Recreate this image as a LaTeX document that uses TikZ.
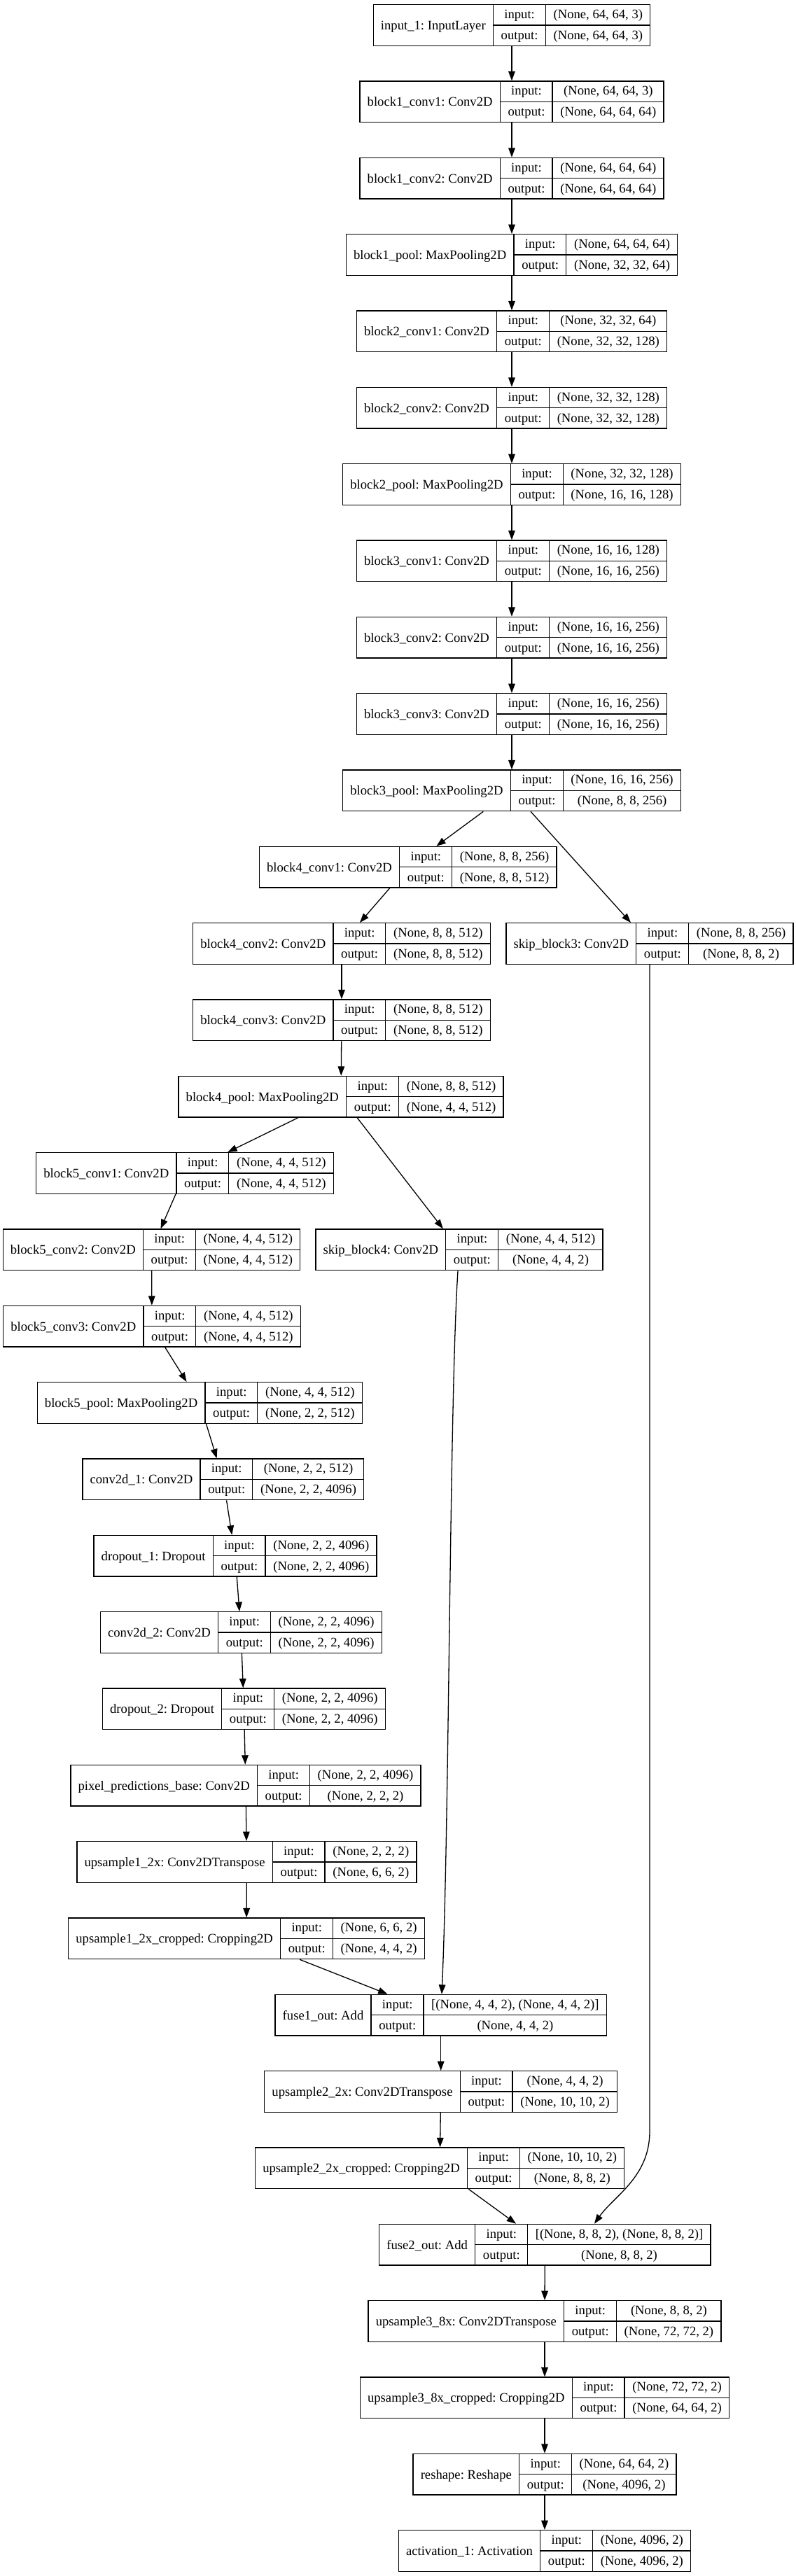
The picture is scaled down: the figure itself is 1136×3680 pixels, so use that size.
\documentclass[tikz,border=0pt]{standalone}
\usepackage{fontspec}
\setmainfont{Liberation Serif}
\usetikzlibrary{arrows.meta}
\frenchspacing
\setlength{\arrayrulewidth}{.65pt}
\newcommand\pd{\hspace{5.333pt}}
\newcommand\rs{\rule[-4.35pt]{0pt}{14.35pt}}
% one keras layer: name | input:/output: | shapes
\newcommand\rec[3]{%
  \begin{tabular}{@{\pd}c@{\pd}|@{}c@{}}
    \raisebox{-1pt}{#1} &
    \begin{tabular}{@{\pd}c@{\pd}|@{\pd}c@{\pd}}
      \rs input: & #2\\ \hline
      \rs output: & #3
    \end{tabular}
  \end{tabular}}
\tikzset{layer/.style={draw, line width=.65pt, inner sep=0pt, font=\fontsize{9.333pt}{11pt}\selectfont}}
\begin{document}
\begin{tikzpicture}[>={Triangle[length=6.7pt,width=4.8pt]}, x=.5pt, y=-.5pt, line width=.65pt]
\path[fill=white](0,0) rectangle (1136,3680);

\node[layer] (in1) at (731,36) {\rec{input\_1: InputLayer}{(None, 64, 64, 3)}{(None, 64, 64, 3)}};
\node[layer] (b1c1) at (731,145.3) {\rec{block1\_conv1: Conv2D}{(None, 64, 64, 3)}{(None, 64, 64, 64)}};
\node[layer] (b1c2) at (731,254.7) {\rec{block1\_conv2: Conv2D}{(None, 64, 64, 64)}{(None, 64, 64, 64)}};
\node[layer] (b1pool) at (731,364) {\rec{block1\_pool: MaxPooling2D}{(None, 64, 64, 64)}{(None, 32, 32, 64)}};
\node[layer] (b2c1) at (731,473.3) {\rec{block2\_conv1: Conv2D}{(None, 32, 32, 64)}{(None, 32, 32, 128)}};
\node[layer] (b2c2) at (731,582.7) {\rec{block2\_conv2: Conv2D}{(None, 32, 32, 128)}{(None, 32, 32, 128)}};
\node[layer] (b2pool) at (731,692) {\rec{block2\_pool: MaxPooling2D}{(None, 32, 32, 128)}{(None, 16, 16, 128)}};
\node[layer] (b3c1) at (731,801.3) {\rec{block3\_conv1: Conv2D}{(None, 16, 16, 128)}{(None, 16, 16, 256)}};
\node[layer] (b3c2) at (731,910.7) {\rec{block3\_conv2: Conv2D}{(None, 16, 16, 256)}{(None, 16, 16, 256)}};
\node[layer] (b3c3) at (731,1020) {\rec{block3\_conv3: Conv2D}{(None, 16, 16, 256)}{(None, 16, 16, 256)}};
\node[layer] (b3pool) at (731,1129.3) {\rec{block3\_pool: MaxPooling2D}{(None, 16, 16, 256)}{(None, 8, 8, 256)}};
\node[layer] (b4c1) at (582.7,1238.7) {\rec{block4\_conv1: Conv2D}{(None, 8, 8, 256)}{(None, 8, 8, 512)}};
\node[layer] (b4c2) at (488,1348) {\rec{block4\_conv2: Conv2D}{(None, 8, 8, 512)}{(None, 8, 8, 512)}};
\node[layer] (skip3) at (928,1348) {\rec{skip\_block3: Conv2D}{(None, 8, 8, 256)}{(None, 8, 8, 2)}};
\node[layer] (b4c3) at (488,1457.3) {\rec{block4\_conv3: Conv2D}{(None, 8, 8, 512)}{(None, 8, 8, 512)}};
\node[layer] (b4pool) at (487,1566.7) {\rec{block4\_pool: MaxPooling2D}{(None, 8, 8, 512)}{(None, 4, 4, 512)}};
\node[layer] (b5c1) at (264,1676) {\rec{block5\_conv1: Conv2D}{(None, 4, 4, 512)}{(None, 4, 4, 512)}};
\node[layer] (b5c2) at (216.5,1785.3) {\rec{block5\_conv2: Conv2D}{(None, 4, 4, 512)}{(None, 4, 4, 512)}};
\node[layer] (skip4) at (656,1785.3) {\rec{skip\_block4: Conv2D}{(None, 4, 4, 512)}{(None, 4, 4, 2)}};
\node[layer] (b5c3) at (217,1894.7) {\rec{block5\_conv3: Conv2D}{(None, 4, 4, 512)}{(None, 4, 4, 512)}};
\node[layer] (b5pool) at (285.3,2004) {\rec{block5\_pool: MaxPooling2D}{(None, 4, 4, 512)}{(None, 2, 2, 512)}};
\node[layer] (conv1) at (318.8,2113.3) {\rec{conv2d\_1: Conv2D}{(None, 2, 2, 512)}{(None, 2, 2, 4096)}};
\node[layer] (drop1) at (336,2222.7) {\rec{dropout\_1: Dropout}{(None, 2, 2, 4096)}{(None, 2, 2, 4096)}};
\node[layer] (conv2) at (344.3,2332) {\rec{conv2d\_2: Conv2D}{(None, 2, 2, 4096)}{(None, 2, 2, 4096)}};
\node[layer] (drop2) at (348.4,2441.3) {\rec{dropout\_2: Dropout}{(None, 2, 2, 4096)}{(None, 2, 2, 4096)}};
\node[layer] (pixbase) at (351,2550.7) {\rec{pixel\_predictions\_base: Conv2D}{(None, 2, 2, 4096)}{(None, 2, 2, 2)}};
\node[layer] (ups1) at (352.4,2660) {\rec{upsample1\_2x: Conv2DTranspose}{(None, 2, 2, 2)}{(None, 6, 6, 2)}};
\node[layer] (ups1c) at (352,2769.3) {\rec{upsample1\_2x\_cropped: Cropping2D}{(None, 6, 6, 2)}{(None, 4, 4, 2)}};
\node[layer] (fuse1) at (629.7,2878.7) {\rec{fuse1\_out: Add}{[(None, 4, 4, 2), (None, 4, 4, 2)]}{(None, 4, 4, 2)}};
\node[layer] (ups2) at (629.7,2988) {\rec{upsample2\_2x: Conv2DTranspose}{(None, 4, 4, 2)}{(None, 10, 10, 2)}};
\node[layer] (ups2c) at (628.2,3097.3) {\rec{upsample2\_2x\_cropped: Cropping2D}{(None, 10, 10, 2)}{(None, 8, 8, 2)}};
\node[layer] (fuse2) at (778.3,3206.7) {\rec{fuse2\_out: Add}{[(None, 8, 8, 2), (None, 8, 8, 2)]}{(None, 8, 8, 2)}};
\node[layer] (ups3) at (778,3316) {\rec{upsample3\_8x: Conv2DTranspose}{(None, 8, 8, 2)}{(None, 72, 72, 2)}};
\node[layer] (ups3c) at (778,3425.3) {\rec{upsample3\_8x\_cropped: Cropping2D}{(None, 72, 72, 2)}{(None, 64, 64, 2)}};
\node[layer] (reshape) at (778,3534.7) {\rec{reshape: Reshape}{(None, 64, 64, 2)}{(None, 4096, 2)}};
\node[layer] (act1) at (778,3644) {\rec{activation\_1: Activation}{(None, 4096, 2)}{(None, 4096, 2)}};

\foreach \a/\b in {in1/b1c1,b1c1/b1c2,b1c2/b1pool,b1pool/b2c1,b2c1/b2c2,b2c2/b2pool,
  b2pool/b3c1,b3c1/b3c2,b3c2/b3c3,b3c3/b3pool,b3pool/b4c1,b3pool/skip3,
  b4c1/b4c2,b4c2/b4c3,b4c3/b4pool,b4pool/b5c1,b4pool/skip4,b5c1/b5c2,b5c2/b5c3,
  b5c3/b5pool,b5pool/conv1,conv1/drop1,drop1/conv2,conv2/drop2,drop2/pixbase,
  pixbase/ups1,ups1/ups1c,ups1c/fuse1,fuse1/ups2,ups2/ups2c,ups2c/fuse2,
  fuse2/ups3,ups3/ups3c,ups3c/reshape,reshape/act1}
{
    \draw[->](\a)--(\b);
}
% the two skip connections
\draw[->](skip4) .. controls (642,2000) and (642,2600) .. (fuse1);
\coordinate (s3bend) at (928,3045);
\draw[->](skip3)--(s3bend) .. controls (928,3110) and (877,3137) .. (fuse2.23);
\end{tikzpicture}
\end{document}
